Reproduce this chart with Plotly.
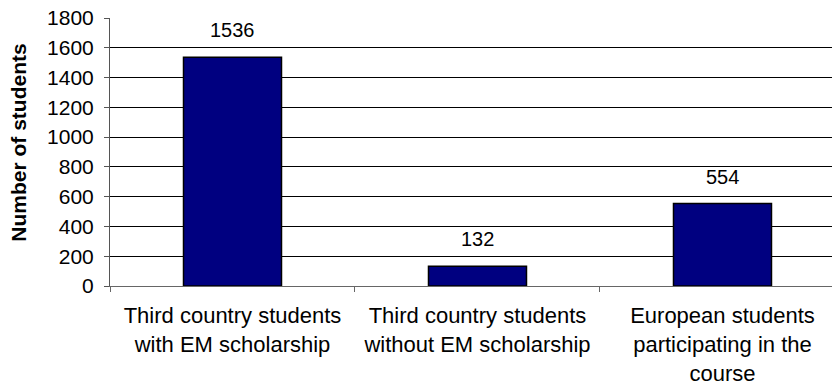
import plotly.graph_objects as go

# Student counts by participant group
categories = [
    "Third country students<br>with EM scholarship",
    "Third country students<br>without EM scholarship",
    "European students<br>participating in the<br>course",
]
students = [1536, 132, 554]
y_ticks = [0, 200, 400, 600, 800, 1000, 1200, 1400, 1600, 1800]

FONT = "Liberation Sans, Arial, sans-serif"

fig = go.Figure()
fig.add_trace(go.Bar(
    x=categories,
    y=students,
    width=0.4,
    marker=dict(color="#000080", line=dict(color="#000000", width=1.5)),
    hoverinfo="skip",
))

# value labels above each bar
for cat, val in zip(categories, students):
    fig.add_annotation(
        x=cat, y=val, text=str(val), showarrow=False,
        yanchor="bottom", yshift=14,
        font=dict(family=FONT, size=20, color="#000000"),
    )

# vertical axis title, placed slightly above the plot's mid-height
fig.add_annotation(
    xref="paper", yref="paper", x=-0.126, y=0.535,
    text="<b>Number of students</b>", textangle=-90, showarrow=False,
    xanchor="center", yanchor="middle",
    font=dict(family=FONT, size=21, color="#000000"),
)

fig.update_layout(
    width=832, height=387,
    margin=dict(l=110, r=0, t=18, b=101),
    paper_bgcolor="white", plot_bgcolor="white",
    showlegend=False,
    bargap=0.6,
)
fig.update_xaxes(
    type="category",
    range=[-0.5, 2.447],
    showline=True, linecolor="#666666", linewidth=1,
    ticks="outside", tickson="boundaries", ticklen=5, tickcolor="#666666",
    ticklabelstandoff=10,
    tickfont=dict(family=FONT, size=22, color="#000000"),
    showgrid=False,
)
fig.update_yaxes(
    range=[0, 1800],
    tickvals=y_ticks,
    showline=True, linecolor="#555555", linewidth=1,
    ticks="outside", ticklen=5, tickcolor="#555555",
    ticklabelstandoff=6,
    tickfont=dict(family=FONT, size=21, color="#000000"),
    showgrid=True, gridcolor="#000000", gridwidth=1,
    zeroline=False,
)

fig.write_html("out.html")
